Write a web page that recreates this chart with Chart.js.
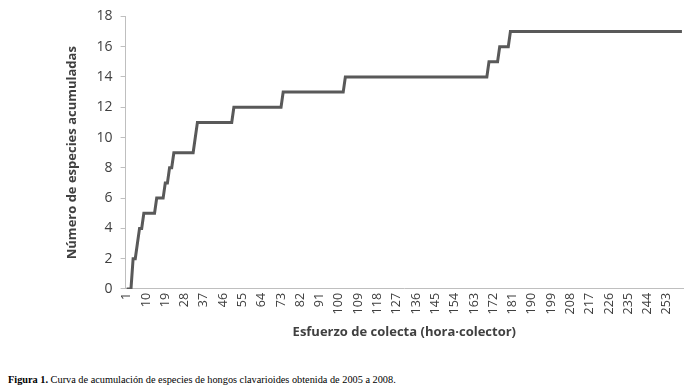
<!DOCTYPE html>
<html>
<head>
<meta charset="utf-8">
<script src="https://cdn.jsdelivr.net/npm/chart.js@4.4.1/dist/chart.umd.min.js"></script>
<style>
  html, body { margin: 0; padding: 0; background: #fff; }
  #wrap { position: absolute; left: 0; top: 0; width: 692px; height: 344px; }
  #caption { position: absolute; left: 8px; top: 374px; font-family: "Liberation Serif", serif; font-size: 10.3px; color: #000; white-space: nowrap; }
</style>
</head>
<body>
<div id="wrap"><canvas id="grafico"></canvas></div>
<div id="caption"><b>Figura 1.</b> Curva de acumulación de especies de hongos clavarioides obtenida de 2005 a 2008.</div>
<script>
// Puntos de quiebre de la curva (esfuerzo, especies acumuladas)
const esfuerzo = [1, 3, 4, 5, 6, 7, 8, 9, 14, 15, 18, 19, 20, 21, 22, 23, 32, 33, 34, 50, 51, 73, 74, 102, 103, 169, 170, 174, 175, 179, 180, 260];
const especies = [0, 0, 2, 2, 3, 4, 4, 5, 5, 6, 6, 7, 7, 8, 8, 9, 9, 10, 11, 11, 12, 12, 13, 13, 14, 14, 15, 15, 16, 16, 17, 17];

// Etiquetas del eje X (cada 9 horas)
const ticksX = [1, 10, 19, 28, 37, 46, 55, 64, 73, 82, 91, 100, 109, 118, 127, 136, 145, 154, 163, 172, 181, 190, 199, 208, 217, 226, 235, 244, 253];
const ticksY = [0, 2, 4, 6, 8, 10, 12, 14, 16, 18];

const puntos = esfuerzo.map((x, i) => ({ x: x, y: especies[i] }));
const fuente = '"Open Sans", sans-serif';

new Chart(document.getElementById('grafico'), {
    type: 'line',
    data: {
        datasets: [{
            data: puntos,
            borderColor: '#595959',
            borderWidth: 3,
            pointRadius: 0,
            tension: 0,
            fill: false
        }]
    },
    options: {
        responsive: true,
        maintainAspectRatio: false,
        animation: false,
        layout: { padding: { left: 64, right: 9, top: 5, bottom: 4 } },
        plugins: { legend: { display: false }, tooltip: { enabled: false } },
        scales: {
            x: {
                type: 'linear',
                min: 0.5,
                max: 260.5,
                afterBuildTicks: (axis) => { axis.ticks = ticksX.map(v => ({ value: v })); },
                grid: { drawOnChartArea: false, drawTicks: false },
                border: { color: '#bfbfbf', width: 1 },
                ticks: {
                    autoSkip: false,
                    minRotation: 90,
                    maxRotation: 90,
                    padding: 4,
                    color: '#404040',
                    font: { family: fuente, size: 12.5 }
                },
                title: {
                    display: true,
                    text: 'Esfuerzo de colecta (hora·colector)',
                    color: '#404040',
                    font: { family: fuente, size: 13, weight: 'bold' },
                    padding: { top: 6, bottom: 0 }
                }
            },
            y: {
                min: 0,
                max: 18,
                afterBuildTicks: (axis) => { axis.ticks = ticksY.map(v => ({ value: v })); },
                grid: { drawOnChartArea: false, drawTicks: true, tickLength: 5, color: '#bfbfbf' },
                border: { color: '#bfbfbf', width: 1 },
                ticks: {
                    padding: 8,
                    color: '#404040',
                    font: { family: fuente, size: 14 }
                },
                title: {
                    display: true,
                    text: 'Número de especies acumuladas',
                    color: '#404040',
                    font: { family: fuente, size: 13, weight: 'bold' },
                    padding: { top: 0, bottom: 9 }
                }
            }
        }
    }
});
</script>
</body>
</html>
